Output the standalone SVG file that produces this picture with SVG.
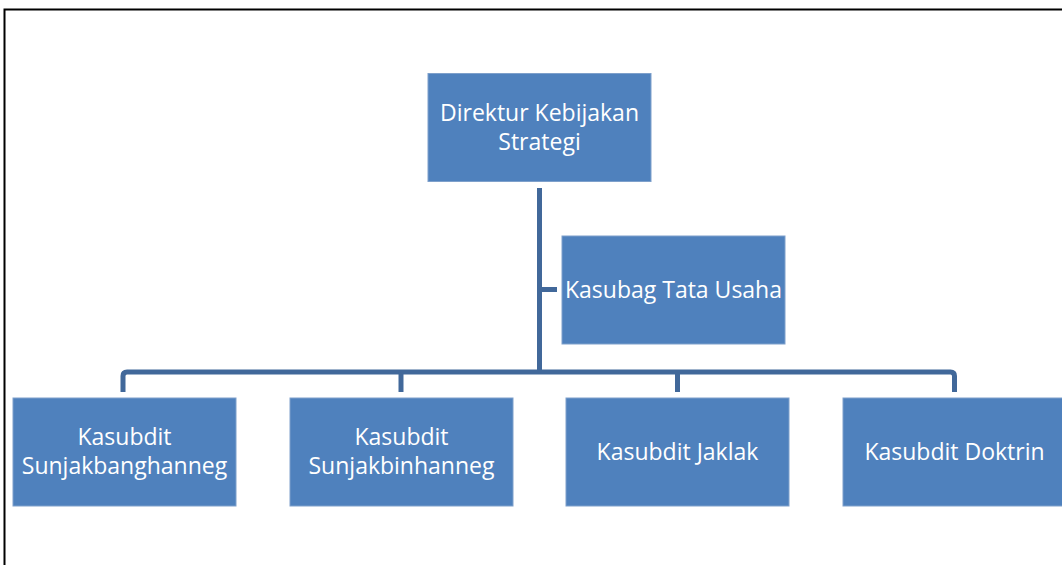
<svg xmlns="http://www.w3.org/2000/svg" width="1062" height="565" viewBox="0 0 1062 565">
<style>
.box{fill:#4F81BD;stroke:#7EA0CB;stroke-width:1}
.lbl{font-family:"Open Sans","Liberation Sans",sans-serif;font-size:23px;fill:#FFFFFF;text-anchor:middle}
.con{fill:none;stroke:#41689A;stroke-width:5;stroke-linejoin:round}
</style>
<rect x="0" y="0" width="1062" height="565" fill="#FFFFFF"/>
<path d="M4.5 565 V9.5 H1062" fill="none" stroke="#000000" stroke-width="2"/>
<g id="connectors">
<path class="con" d="M539.5 188 V372"/>
<path class="con" d="M539.5 289.5 H557"/>
<path class="con" d="M123 392 V376 Q123 372 127 372 H950.5 Q954.5 372 954.5 376 V392"/>
<path class="con" d="M401 372 V392"/>
<path class="con" d="M677.5 372 V392"/>
</g>
<g id="node-direktur">
<rect class="box" x="428" y="73.5" width="223" height="108"/>
<text class="lbl" x="539.5" y="121">Direktur Kebijakan</text>
<text class="lbl" x="539.5" y="150">Strategi</text>
</g>
<g id="node-kasubag">
<rect class="box" x="562" y="236" width="223" height="108"/>
<text class="lbl" x="673.5" y="298">Kasubag Tata Usaha</text>
</g>
<g id="node-sunjakbanghanneg">
<rect class="box" x="13" y="398" width="223" height="108"/>
<text class="lbl" x="124.5" y="445">Kasubdit</text>
<text class="lbl" x="124.5" y="474">Sunjakbanghanneg</text>
</g>
<g id="node-sunjakbinhanneg">
<rect class="box" x="290" y="398" width="223" height="108"/>
<text class="lbl" x="401.5" y="445">Kasubdit</text>
<text class="lbl" x="401.5" y="474">Sunjakbinhanneg</text>
</g>
<g id="node-jaklak">
<rect class="box" x="566" y="398" width="223" height="108"/>
<text class="lbl" x="677.5" y="460">Kasubdit Jaklak</text>
</g>
<g id="node-doktrin">
<rect class="box" x="843" y="398" width="223" height="108"/>
<text class="lbl" x="954.5" y="460">Kasubdit Doktrin</text>
</g>
</svg>
